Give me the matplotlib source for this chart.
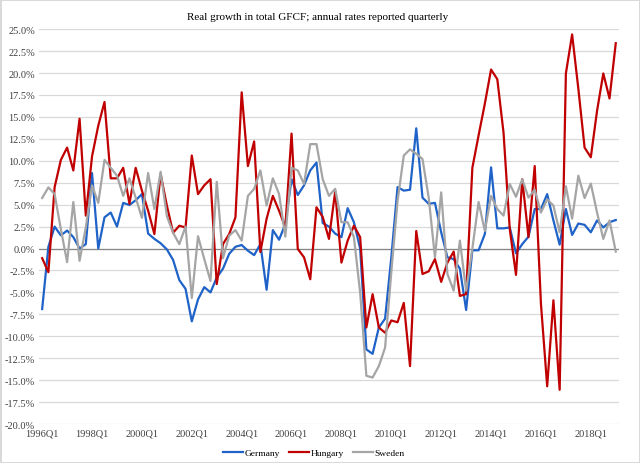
import numpy as np
import matplotlib
matplotlib.use('Agg')
import matplotlib.pyplot as plt
from matplotlib.ticker import FuncFormatter

# quarterly annual growth rates (%), 1996Q1 .. 2019Q1
germany = [
    -6.9, 0.2, 2.5, 1.5, 2.05, 1.3, 0.0, 0.5, 8.6, 0.0, 3.56, 4.1, 2.5, 5.2, 4.96, 5.5, 6.2, 1.7, 1.1, 0.6, -0.1,
    -1.3, -3.6, -4.6, -8.3, -5.8, -4.4, -5.0, -3.3, -2.3, -0.6, 0.2, 0.4, -0.25, -0.75, 0.5, -4.7, 2.1, 1.0, 2.8,
    7.9, 6.1, 7.2, 8.9, 9.8,
    2.9, 2.5, 1.7, 1.3, 4.6, 3.0, 0.0, -11.5, -12.0, -9.0, -8.0, -1.0, 7.0, 6.6, 6.7, 13.7, 5.8, 5.1, 5.2, 1.85,
    -1.0, -1.2, -2.3, -7.0,
    -0.2, -0.2, 1.65, 9.25, 2.3, 2.3, 2.4, -0.55, 0.5, 1.35, 4.5, 4.5, 6.2, 3.2, 0.44, 4.5, 1.55, 2.85, 2.7,
    1.85, 3.2, 2.4, 3.0, 3.25,
]
hungary = [
    -1.1, -2.7, 7.0, 10.1, 11.5, 8.9, 14.8, 3.75, 10.5, 14.0, 16.7, 8.0, 8.0, 9.2, 5.1, 9.2, 6.6, 4.3, 1.65, 8.5,
    4.9, 1.8, 2.6, 2.4,
    10.6, 6.2, 7.2, 7.9, -4.05, 0.5, 1.65, 3.55, 17.8, 9.4, 12.2, -0.4, 3.4, 6.0, 4.3, 2.4, 13.1, -0.05, -1.0,
    -3.5, 4.7,
    3.6, 1.1, 6.5, -1.6, 0.9, 2.6, 1.3, -9.0, -5.2, -9.0, -9.6, -8.2, -8.4, -6.2, -13.4, 2.0, -2.9, -2.6,
    -1.2, -3.8, -1.6, -0.35, -5.4, -5.2,
    9.2, 12.9, 16.5, 20.4, 19.3, 13.2, 2.2, -3.0, 7.9, 1.3, 9.4, -6.3, -15.7, -5.9, -16.1, 19.95, 24.4, 18.2,
    11.5, 10.4, 15.7, 19.95, 17.1, 23.4,
]
sweden = [
    5.76, 6.97, 6.2, 2.2, -1.55, 5.3, -1.4, 2.4, 7.2, 5.2, 10.1, 9.2, 8.3, 6.0, 8.0, 5.8, 3.5, 8.6, 4.5, 8.75, 3.7,
    1.8, 0.5, 2.5, -5.65, 1.4, -1.2, -3.7, 7.6, -1.1, 1.47, 2.1, 0.9, 6.0, 6.8, 8.9, 4.9, 8.0, 6.2, 1.35, 9.2,
    8.9, 7.35, 11.9, 11.9,
    7.9, 6.0, 6.8, 3.0, 3.0, 1.3, -5.0, -14.5, -14.7, -13.4, -11.3, -2.7, 5.4, 10.6, 11.3, 10.8, 10.2, 5.8,
    -1.0, 6.4, -2.9, -4.8, 0.9, -4.8,
    0.0, 5.3, 2.0, 6.0, 4.5, 3.75, 7.35, 5.9, 7.9, 5.8, 6.7, 4.1, 5.6, 4.9, 1.85, 7.1, 3.4, 8.3, 5.75, 7.4,
    4.1, 1.1, 3.2, -0.35,
]

quarters = [f'{y}Q{q}' for y in range(1996, 2020) for q in range(1, 5)][:len(germany)]


def main():
    plt.rcParams['font.family'] = ['Liberation Serif', 'DejaVu Serif']

    fig = plt.figure(figsize=(6.4, 4.64), dpi=100)
    fig.patch.set_edgecolor('#d9d9d9')
    fig.patch.set_linewidth(1)
    ax = fig.add_axes([0.061, 0.084, 0.906, 0.851])

    xs = np.arange(len(quarters))
    ax.plot(xs, germany, color='#1f62c8', linewidth=1.6, label='Germany')
    ax.plot(xs, hungary, color='#c00000', linewidth=1.6, label='Hungary')
    ax.plot(xs, sweden, color='#a5a5a5', linewidth=1.6, label='Sweden')

    # axis and grid
    ax.set_xlim(-0.5, len(quarters) - 0.5)
    ax.set_ylim(-20, 25)
    ax.set_yticks(np.arange(-20, 25.1, 2.5))
    ax.yaxis.set_major_formatter(FuncFormatter(lambda v, p: f'{v:.1f}%'))
    ax.grid(axis='y', color='#d9d9d9', linewidth=0.9)
    ax.set_axisbelow(True)
    ax.axhline(0, color='#868686', linewidth=0.9, zorder=1)
    ax.set_xticks(xs[::8])
    ax.set_xticklabels(quarters[::8])
    for s in ax.spines.values():
        s.set_visible(False)
    ax.tick_params(length=0, labelsize=7.5, colors='#404040', pad=3)

    fig.text(0.497, 0.963, 'Real growth in total GFCF; annual rates reported quarterly',
             fontsize=8, ha='center', va='center')
    fig.legend(loc='lower center', bbox_to_anchor=(0.49, -0.005), ncol=3, frameon=False,
               fontsize=6.8, handlelength=2.1, columnspacing=1.0, handletextpad=0.15)

    fig.savefig('out.png', dpi=100, edgecolor=fig.get_edgecolor())


if __name__ == '__main__':
    main()
